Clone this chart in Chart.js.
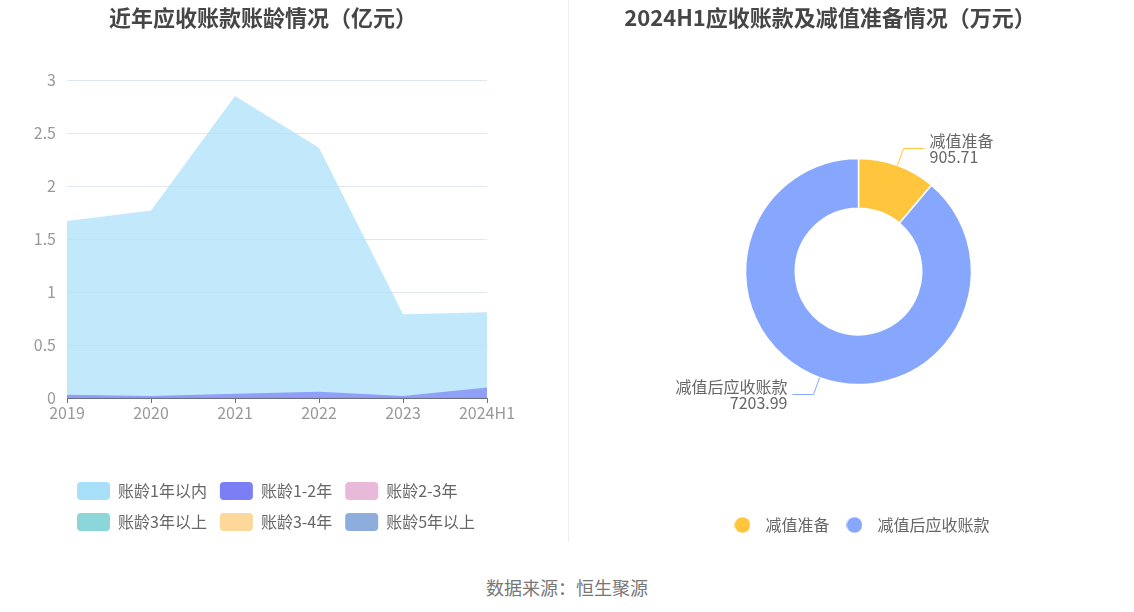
<!DOCTYPE html>
<html>
<head>
<meta charset="utf-8">
<script src="https://cdn.jsdelivr.net/npm/chart.js@4.4.1/dist/chart.umd.min.js"></script>
<style>
  html, body { margin: 0; padding: 0; background: #fff; }
  body { width: 1134px; height: 612px; position: relative; overflow: hidden;
         font-family: "Noto Sans CJK SC", "Noto Sans", sans-serif; }
  #leftBox { position: absolute; left: 0; top: 0; width: 555px; height: 541px; }
  #rightBox { position: absolute; left: 568px; top: 0; width: 566px; height: 543px; }
  #divider { position: absolute; left: 568px; top: 0; width: 1px; height: 542px; background: #eeeeee; }
  #source { position: absolute; left: 0; width: 1134px; top: 574px; text-align: center;
            font-size: 18px; color: #777; line-height: 26px; }
</style>
</head>
<body>
<div id="leftBox"><canvas id="left"></canvas></div>
<div id="divider"></div>
<div id="rightBox"><canvas id="right"></canvas></div>
<div id="source">数据来源：恒生聚源</div>
<script>
// ---- data ----
const years = ['2019', '2020', '2021', '2022', '2023', '2024H1'];
const ageWithin1 = [1.67, 1.77, 2.85, 2.36, 0.79, 0.81];
const age1to2 = [0.03, 0.02, 0.04, 0.06, 0.02, 0.10];
const age2to3 = [0.005, 0.003, 0.012, 0.012, 0.005, 0.004];
const ageOver3 = [0.002, 0.002, 0.003, 0.004, 0.002, 0.003];
const age3to4 = [0.003, 0.004, 0.010, 0.008, 0.003, 0.002];
const ageOver5 = [0.001, 0.001, 0.002, 0.002, 0.001, 0.001];
const seriesNames = ['账龄1年以内', '账龄1-2年', '账龄2-3年', '账龄3年以上', '账龄3-4年', '账龄5年以上'];
const yTicks = [0, 0.5, 1, 1.5, 2, 2.5, 3];

const pieLabels = ['减值准备', '减值后应收账款'];
const pieValues = [905.71, 7203.99];

// ---- styles ----
const FONT = '"Noto Sans CJK SC", "Noto Sans", sans-serif';
const solidColors = ['#a8dff9', '#7b7ff5', '#e9b9d9', '#8ad6d8', '#fed89a', '#8daedc'];
function alpha(hex, a) {
  const n = parseInt(hex.slice(1), 16);
  return `rgba(${(n >> 16) & 255},${(n >> 8) & 255},${n & 255},${a})`;
}
const pieColors = ['#ffc53d', '#87a7fe'];

// plugin to place title / legend blocks precisely
const placer = {
  id: 'placer',
  afterLayout(chart, args, opts) {
    if (opts.titleCenter != null && chart.titleBlock) {
      const t = chart.titleBlock;
      const w = t.right - t.left;
      t.left = opts.titleCenter - w / 2;
      t.right = opts.titleCenter + w / 2;
    }
    if (opts.legendLeft != null && chart.legend) {
      const l = chart.legend;
      const w = l.right - l.left;
      l.left = opts.legendLeft;
      l.right = opts.legendLeft + w;
    }
  }
};

// ---- left chart ----
const allSeries = [ageWithin1, age1to2, age2to3, ageOver3, age3to4, ageOver5];
new Chart(document.getElementById('left'), {
  type: 'line',
  data: {
    labels: years,
    datasets: allSeries.map((arr, i) => ({
      label: seriesNames[i],
      data: arr,
      fill: 'origin',
      backgroundColor: alpha(solidColors[i], 0.7),
      borderColor: alpha(solidColors[i], 0.7),
      borderWidth: 0,
      pointRadius: 0,
      tension: 0,
      order: i === 0 ? 1 : 0
    }))
  },
  plugins: [placer],
  options: {
    responsive: true,
    maintainAspectRatio: false,
    animation: false,
    layout: { padding: { left: 8, right: 68, top: 0, bottom: 0 } },
    scales: {
      x: {
        offset: false,
        grid: { drawOnChartArea: false, drawTicks: true, tickLength: 5, color: '#6E7079' },
        border: { display: true, color: '#6E7079', width: 1 },
        ticks: { color: '#999', font: { family: FONT, size: 16 }, padding: 0, maxRotation: 0, autoSkip: false },
        afterFit(scale) { scale.height = 71; }
      },
      y: {
        min: yTicks[0], max: yTicks[yTicks.length - 1],
        afterBuildTicks(scale) { scale.ticks = yTicks.map(v => ({ value: v })); },
        grid: { color: '#e0e6f1', drawTicks: false },
        border: { display: false },
        ticks: { color: '#999', font: { family: FONT, size: 16 }, padding: 11,
                 callback: (v) => String(v) },
        afterFit(scale) { scale.width = 59; }
      }
    },
    plugins: {
      title: {
        display: true,
        text: '近年应收账款账龄情况（亿元）',
        color: '#464646',
        font: { family: FONT, size: 22, weight: 'bold' },
        padding: { top: 4, bottom: 49.6 }
      },
      legend: {
        position: 'bottom',
        align: 'start',
        labels: {
          boxWidth: 33,
          boxHeight: 18,
          padding: 13,
          color: '#666',
          font: { family: FONT, size: 16 },
          useBorderRadius: true,
          borderRadius: 4,
          sort: (a, b) => a.datasetIndex - b.datasetIndex,
          generateLabels(chart) {
            return Chart.defaults.plugins.legend.labels.generateLabels(chart).map(l => ({
              ...l,
              fillStyle: solidColors[l.datasetIndex],
              strokeStyle: solidColors[l.datasetIndex],
              lineWidth: 0
            }));
          }
        }
      },
      tooltip: { enabled: false },
      placer: { titleCenter: 263, legendLeft: 64 }
    }
  }
});

// ---- right chart ----
function dot(color) {
  const c = document.createElement('canvas');
  c.width = 16; c.height = 16;
  const g = c.getContext('2d');
  g.fillStyle = color;
  g.beginPath(); g.arc(8, 8, 7.8, 0, Math.PI * 2); g.fill();
  return c;
}
const dots = pieColors.map(dot);

const pieLabelPlugin = {
  id: 'pieLabels',
  afterDatasetsDraw(chart) {
    const ctx = chart.ctx;
    const meta = chart.getDatasetMeta(0);
    meta.data.forEach((arc, i) => {
      const mid = (arc.startAngle + arc.endAngle) / 2;
      const r = arc.outerRadius;
      const cx = arc.x, cy = arc.y;
      const p0 = [cx + Math.cos(mid) * r, cy + Math.sin(mid) * r];
      const p1 = [cx + Math.cos(mid) * (r + 18), cy + Math.sin(mid) * (r + 18)];
      const dir = Math.cos(mid) >= 0 ? 1 : -1;
      const p2 = [p1[0] + dir * 21, p1[1]];
      ctx.save();
      ctx.strokeStyle = pieColors[i];
      ctx.lineWidth = 1;
      ctx.beginPath();
      ctx.moveTo(p0[0], p0[1]);
      ctx.lineTo(p1[0], p1[1]);
      ctx.lineTo(p2[0], p2[1]);
      ctx.stroke();
      ctx.fillStyle = '#666';
      ctx.font = '16px ' + FONT;
      ctx.textAlign = dir > 0 ? 'left' : 'right';
      ctx.textBaseline = 'middle';
      const tx = p2[0] + dir * 5;
      ctx.fillText(pieLabels[i], tx, p2[1] - 8);
      ctx.fillText(pieValues[i].toFixed(2), tx, p2[1] + 8);
      ctx.restore();
    });
  }
};

new Chart(document.getElementById('right'), {
  type: 'doughnut',
  data: {
    labels: pieLabels,
    datasets: [{
      data: pieValues,
      backgroundColor: pieColors,
      borderColor: '#ffffff',
      borderWidth: 1.5,
      hoverOffset: 0
    }]
  },
  plugins: [placer, pieLabelPlugin],
  options: {
    responsive: true,
    maintainAspectRatio: false,
    animation: false,
    radius: 113,
    cutout: '56%',
    layout: { padding: { left: 15, right: 0, top: 0, bottom: 0 } },
    plugins: {
      title: {
        display: true,
        text: '2024H1应收账款及减值准备情况（万元）',
        color: '#464646',
        font: { family: FONT, size: 22, weight: 'bold' },
        padding: { top: 4, bottom: 5.6 }
      },
      legend: {
        position: 'bottom',
        labels: {
          usePointStyle: true,
          pointStyleWidth: 30,
          boxHeight: 16,
          padding: 10,
          color: '#666',
          font: { family: FONT, size: 16 },
          generateLabels(chart) {
            return Chart.overrides.doughnut.plugins.legend.labels.generateLabels(chart).map((l, i) => ({
              ...l,
              pointStyle: dots[i],
              lineWidth: 0
            }));
          }
        }
      },
      tooltip: { enabled: false },
      placer: { titleCenter: 262 }
    }
  }
});
</script>
</body>
</html>
